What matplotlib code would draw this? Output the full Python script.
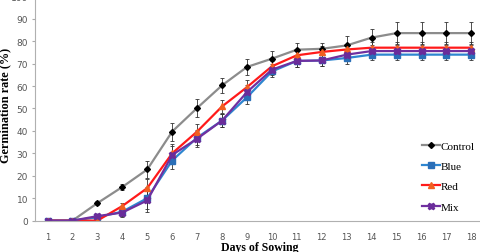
import numpy as np
import matplotlib
matplotlib.use("Agg")
import matplotlib.pyplot as plt
from matplotlib.lines import Line2D

# 播种天数
days = list(range(1, 19))

# 发芽率 (%)
control = [0, 0, 7.8, 15, 22.8, 39.7, 50.2, 60.3, 68.5, 72.2, 76.2, 76.6, 78.1, 81.6, 83.6, 83.6, 83.6, 83.6]
blue    = [0, 0, 1.5, 4, 10, 26.8, 37, 44.6, 55, 66.5, 71.2, 71.4, 72.5, 74, 74, 74, 74, 74]
red     = [0, 0, 0, 6.5, 14.5, 30, 39.7, 50.9, 59.5, 68.8, 73.7, 75.2, 76.3, 77.1, 77.1, 77.1, 77.1, 77.1]
mix     = [0, 0, 2, 3.6, 9, 29.3, 36.5, 44.6, 57.3, 67.3, 71.2, 71.4, 74, 75.6, 75.6, 75.6, 75.6, 75.6]

# 误差
control_err = [0, 0, 1, 1.3, 4, 4, 4, 3.5, 3.5, 3.5, 3, 2.5, 4, 4, 5, 5, 5, 5]
blue_err    = [0, 0, 1, 2, 5, 4, 3.5, 3, 3, 2.5, 2.5, 2.5, 2.5, 2.5, 2.5, 2.5, 2.5, 2.5]
red_err     = [0, 0, 0, 1.5, 4, 4, 3.5, 3, 3, 2.5, 2.5, 2.5, 2.5, 2.5, 2.5, 2.5, 2.5, 2.5]
mix_err     = [0, 0, 1, 2, 5, 4, 3.5, 3, 3, 2.5, 2.5, 2.5, 2.5, 2.5, 2.5, 2.5, 2.5, 2.5]

fig = plt.figure(figsize=(4.8, 2.53), dpi=100)
ax = fig.add_axes([0.073, 0.124, 0.935, 0.8866])

series = [
    ("Control", control, control_err, "#8c8c8c", "#000000", "D", 3),
    ("Blue", blue, blue_err, "#2e86d0", "#2a6fb8", "s", 4),
    ("Red", red, red_err, "#ff1a1a", "#f06020", "^", 4),
    ("Mix", mix, mix_err, "#7030a0", "#6a2c9a", "X", 5),
]

handles = []
for name, vals, err, lc, mc, mk, ms in series:
    ax.errorbar(days, vals, yerr=err, color=lc, linewidth=1.6,
                marker=mk, markersize=ms, markerfacecolor=mc, markeredgecolor=mc,
                ecolor="#333333", elinewidth=0.6, capsize=1.5, capthick=0.6)
    handles.append(Line2D([], [], color=lc, linewidth=1.6, marker=mk, markersize=ms,
                          markerfacecolor=mc, markeredgecolor=mc, label=name))

ax.set_xlim(0.5, 18.5)
ax.set_ylim(0, 100)
ax.set_xticks(days)
ax.set_yticks(range(0, 101, 10))
ax.tick_params(axis="x", length=0, labelsize=6, labelcolor="#555555", pad=8)
ax.tick_params(axis="y", length=2, labelsize=6.5, labelcolor="#555555", color="#aaaaaa", pad=3)

for s in ["top", "right"]:
    ax.spines[s].set_visible(False)
for s in ["left", "bottom"]:
    ax.spines[s].set_color("#b0b0b0")
    ax.spines[s].set_linewidth(0.8)

ax.set_xlabel("Days of Sowing", family="Liberation Serif", fontweight="bold", fontsize=8.5, labelpad=0)
ax.set_ylabel("Germination rate (%)", family="Liberation Serif", fontweight="bold", fontsize=8.8)
ax.yaxis.set_label_coords(-0.054, 0.52)

ax.legend(handles=handles, loc="upper left", bbox_to_anchor=(0.84, 0.40), frameon=False,
          prop={"family": "Liberation Serif", "size": 8}, handlelength=1.6,
          handletextpad=0.1, labelspacing=0.95)

fig.savefig("out.png", dpi=100)
